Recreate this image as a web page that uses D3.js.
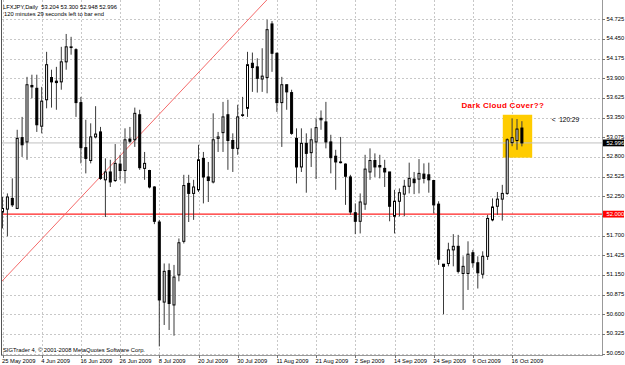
<!DOCTYPE html>
<html>
<head>
<meta charset="utf-8">
<script src="https://cdn.jsdelivr.net/npm/d3@7"></script>
<style>
  body { margin: 0; background: #fff; }
  svg { display: block; }
  text { font-family: "Liberation Sans", Arial, sans-serif; }
</style>
</head>
<body>
<svg id="chart"></svg>
<script>
// ── data ────────────────────────────────────────────────────────────────────
const titleLine  = "LFXJPY,Daily  53.204 53.300 52.948 52.996";
const timerLine  = "120 minutes 29 seconds left to bar end";
const copyright  = "SIGTrader 4, © 2001-2008 MetaQuotes Software Corp.";
const noteText   = "Dark Cloud Cover??";
const countdown  = "<  120:29";

const opens  = [52.03,52.07,52.22,52.08,53.07,53.01,53.80,53.76,53.23,53.60,53.91,53.86,53.85,54.13,54.33,54.30,53.56,52.93,52.75,53.08,
                53.15,52.48,52.59,52.47,52.70,52.61,53.05,53.04,53.39,52.64,52.61,52.38,51.89,50.77,51.21,50.73,51.15,51.62,52.43,52.29,
                52.34,52.78,52.52,52.45,53.06,53.14,53.39,53.03,52.92,53.38,53.48,54.11,54.06,53.89,53.91,54.66,54.25,53.56,53.81,53.70,
                53.06,52.66,52.99,52.86,53.01,53.32,53.29,53.01,52.81,52.73,52.70,52.52,52.02,51.90,52.14,52.59,52.75,52.68,52.64,52.59,
                51.97,52.18,52.28,52.39,52.49,52.49,52.56,52.55,52.47,52.14,51.30,51.31,51.50,51.55,51.17,51.17,51.46,51.32,51.16,51.41,
                51.92,52.11,52.21,52.29,53.00,53.03,53.204];
const highs  = [52.24,52.29,52.50,53.18,53.36,53.92,53.95,53.95,53.78,54.27,54.02,54.06,54.34,54.52,54.48,54.32,53.64,53.32,53.27,53.51,
                53.22,52.78,52.76,52.98,52.83,53.20,53.22,53.49,53.46,52.87,52.62,52.39,51.92,51.31,51.31,51.29,51.66,52.55,52.55,52.48,
                52.97,52.87,52.73,53.41,53.15,53.57,53.60,53.13,53.53,53.64,54.27,54.26,54.18,54.32,54.72,54.70,54.26,53.92,53.81,53.74,
                53.20,53.20,53.13,53.20,53.34,53.45,53.57,53.11,52.90,53.08,52.71,52.55,52.15,52.29,52.83,52.92,52.85,52.83,52.76,52.59,
                52.34,52.36,52.48,52.72,52.59,52.77,52.71,52.72,52.48,52.18,51.30,51.60,51.72,51.71,51.41,51.62,51.50,51.41,51.48,51.99,
                52.22,52.31,52.41,53.06,53.34,53.33,53.300];
const lows   = [51.80,51.69,52.10,52.07,52.80,52.76,53.62,53.15,53.13,53.48,53.49,53.46,53.74,54.02,54.23,53.36,52.71,52.57,52.71,53.06,
                52.48,51.96,52.38,52.45,52.48,52.43,52.99,52.94,52.62,52.48,52.36,51.86,50.15,50.45,50.38,50.30,51.06,51.59,51.89,51.92,
                52.31,52.15,52.17,52.43,52.87,52.87,52.62,52.59,52.83,53.36,53.36,53.71,53.70,53.71,53.69,53.99,53.43,52.94,53.46,53.11,
                52.43,52.59,52.30,52.66,52.49,53.18,52.92,52.57,52.34,52.71,52.13,51.99,51.72,51.73,52.06,52.48,52.52,52.50,52.38,51.90,
                51.73,51.97,51.97,52.29,52.28,52.29,52.43,52.30,52.01,51.29,50.60,51.27,51.27,51.17,50.66,50.94,51.25,50.96,51.10,51.36,
                51.90,51.99,51.91,52.27,52.95,52.90,52.948];
const closes = [52.08,52.24,52.13,53.06,52.97,53.81,53.78,53.25,53.58,54.09,53.85,53.84,54.13,54.34,54.34,53.56,52.93,52.78,53.08,53.12,
                52.50,52.59,52.45,52.71,52.61,53.04,53.02,53.41,52.65,52.71,52.38,51.90,50.80,51.20,50.75,51.12,51.60,52.40,52.29,52.38,
                52.76,52.52,52.47,53.04,53.08,53.36,53.03,52.92,53.36,53.39,54.09,54.05,53.90,53.93,54.58,54.25,53.56,53.81,53.71,53.13,
                52.66,52.99,52.85,53.04,53.21,53.34,53.01,52.79,52.73,52.72,52.53,52.03,51.90,52.17,52.63,52.75,52.66,52.66,52.59,52.11,
                52.18,52.30,52.39,52.50,52.44,52.57,52.50,52.48,52.13,51.37,51.27,51.50,51.55,51.20,51.27,51.44,51.32,51.18,51.41,51.94,
                52.10,52.21,52.29,53.04,53.07,53.19,52.996];

const priceTicks = [54.725,54.450,54.175,53.900,53.625,53.350,53.075,52.800,52.525,52.250,51.975,51.700,51.425,51.150,50.875,50.600,50.325,50.050];
const dateTicks  = ["25 May 2009","4 Jun 2009","16 Jun 2009","26 Jun 2009","8 Jul 2009","20 Jul 2009","30 Jul 2009",
                    "11 Aug 2009","21 Aug 2009","2 Sep 2009","14 Sep 2009","24 Sep 2009","6 Oct 2009","16 Oct 2009"];

const supportLevel = 52.000;
const bidPrice     = 52.996;
const trendPoints  = [{ bar: 0, price: 51.07 }, { bar: 36, price: 53.69 }];
const noteBox      = { from: 102.1, to: 108.1, top: 53.39, bottom: 52.79 };
const notePos      = { bar: 102.1, price: 53.49 };
const countdownPos = { bar: 112.1, price: 53.29 };

// ── layout ──────────────────────────────────────────────────────────────────
const W = 625, H = 365;
const plot = { left: 2, right: 602, top: 0, bottom: 355 };

const svg = d3.select("#chart").attr("width", W).attr("height", H);
svg.append("rect").attr("width", W).attr("height", H).attr("fill", "#fff");

// trading days (weekdays) 25 May 2009 .. 20 Oct 2009
const days = d3.timeDay.range(new Date(2009, 4, 25), new Date(2009, 9, 21)).filter(d => d.getDay() % 6 !== 0);
const key  = d3.timeFormat("%Y-%m-%d");
const parseTick = d3.timeParse("%d %b %Y");
const dayIndex = new Map(days.map((d, i) => [key(d), i]));

const candles = days.map((d, i) => ({ i, o: opens[i], h: highs[i], l: lows[i], c: closes[i] }));

const x = d3.scaleLinear().domain([0, days.length - 1]).range([2.5, 2.5 + 4.9 * (days.length - 1)]);
const y = d3.scaleLinear().domain([50.030, 54.995]).range([plot.bottom, plot.top]);

svg.append("clipPath").attr("id", "plotClip").append("rect")
  .attr("x", plot.left).attr("y", plot.top).attr("width", plot.right - plot.left).attr("height", plot.bottom - plot.top);

const g = svg.append("g").attr("clip-path", "url(#plotClip)");

// grid
g.selectAll("line.hgrid").data(priceTicks).join("line").attr("class", "hgrid")
  .attr("x1", plot.left).attr("x2", plot.right).attr("y1", d => Math.round(y(d)) + 0.5).attr("y2", d => Math.round(y(d)) + 0.5)
  .attr("stroke", "#c8c8c8").attr("stroke-dasharray", "2,2");
const tickBars = dateTicks.map(t => dayIndex.get(key(parseTick(t))));
g.selectAll("line.vgrid").data(tickBars).join("line").attr("class", "vgrid")
  .attr("x1", d => Math.round(x(d)) + 0.5).attr("x2", d => Math.round(x(d)) + 0.5).attr("y1", plot.top).attr("y2", plot.bottom)
  .attr("stroke", "#c8c8c8").attr("stroke-dasharray", "2,2");

// highlight box
g.append("rect").attr("x", x(noteBox.from)).attr("y", y(noteBox.top))
  .attr("width", x(noteBox.to) - x(noteBox.from)).attr("height", y(noteBox.bottom) - y(noteBox.top))
  .attr("fill", "#ffcc00");

// bid line + support line
g.append("line").attr("x1", plot.left).attr("x2", plot.right).attr("y1", y(bidPrice)).attr("y2", y(bidPrice))
  .attr("stroke", "#c0c0c0");
g.append("line").attr("x1", plot.left).attr("x2", plot.right).attr("y1", y(supportLevel)).attr("y2", y(supportLevel))
  .attr("stroke", "#ff2020").attr("stroke-width", 1.2);

// trend line (ray)
const slope = (trendPoints[1].price - trendPoints[0].price) / (trendPoints[1].bar - trendPoints[0].bar);
const trendAt = b => trendPoints[0].price + slope * (b - trendPoints[0].bar);
g.append("line").attr("x1", x(-2)).attr("y1", y(trendAt(-2))).attr("x2", x(80)).attr("y2", y(trendAt(80)))
  .attr("stroke", "#f46a6a").attr("stroke-width", 1);

// candles
const cg = g.selectAll("g.candle").data(candles).join("g").attr("class", "candle");
cg.append("line").attr("x1", d => x(d.i)).attr("x2", d => x(d.i)).attr("y1", d => y(d.h)).attr("y2", d => y(d.l))
  .attr("stroke", "#3a3a3a").attr("stroke-width", 1);
cg.append("rect")
  .attr("x", d => x(d.i) - 1).attr("width", 2)
  .attr("y", d => y(Math.max(d.o, d.c)))
  .attr("height", d => Math.max(0.6, Math.abs(y(d.o) - y(d.c))))
  .attr("fill", d => d.c < d.o ? "#000" : "#fff")
  .attr("stroke", "#000").attr("stroke-width", 1);

// texts inside plot
svg.append("text").attr("x", 3).attr("y", 8.5).attr("font-size", 5.8).attr("fill", "#000").style("white-space", "pre").text(titleLine);
svg.append("text").attr("x", 4).attr("y", 16).attr("font-size", 5.8).attr("fill", "#000").text(timerLine);
svg.append("text").attr("x", 3).attr("y", 352).attr("font-size", 5.8).attr("fill", "#000").text(copyright);
svg.append("text").attr("x", x(notePos.bar)).attr("y", y(notePos.price)).attr("text-anchor", "middle")
  .attr("font-size", 8).attr("font-weight", "bold").attr("fill", "#ff0000").attr("letter-spacing", 0.3).text(noteText);
svg.append("text").attr("x", x(countdownPos.bar)).attr("y", y(countdownPos.price))
  .attr("font-family", "Liberation Mono, monospace").attr("font-size", 6.5).attr("fill", "#000")
  .style("white-space", "pre").text(countdown);

// frame
svg.append("line").attr("x1", 1.5).attr("x2", 1.5).attr("y1", 0).attr("y2", plot.bottom).attr("stroke", "#555");
svg.append("line").attr("x1", plot.right + 0.5).attr("x2", plot.right + 0.5).attr("y1", 0).attr("y2", plot.bottom + 1).attr("stroke", "#999");
svg.append("line").attr("x1", 1).attr("x2", plot.right + 1).attr("y1", plot.bottom + 0.5).attr("y2", plot.bottom + 0.5).attr("stroke", "#999");

// price axis (labels hidden where a level marker sits on top of them, as in the terminal)
const markers = [{ price: supportLevel, fill: "#ff0000" }, { price: bidPrice, fill: "#000" }];
const visibleTicks = priceTicks.filter(p => markers.every(m => Math.abs(y(p) - y(m.price)) > 5));
const pa = svg.append("g");
pa.selectAll("line").data(priceTicks).join("line")
  .attr("x1", plot.right).attr("x2", plot.right + 3).attr("y1", d => Math.round(y(d)) + 0.5).attr("y2", d => Math.round(y(d)) + 0.5)
  .attr("stroke", "#777");
pa.selectAll("text").data(visibleTicks).join("text")
  .attr("x", plot.right + 4.5).attr("y", d => y(d) - 0.6).attr("dy", "0.35em").attr("font-size", 5.8).attr("fill", "#000")
  .text(d => d3.format(".3f")(d));

markers.forEach(m => {
  svg.append("rect").attr("x", plot.right + 1).attr("y", y(m.price) - 3.4).attr("width", 21).attr("height", 6.8).attr("fill", m.fill);
  svg.append("text").attr("x", plot.right + 4.5).attr("y", y(m.price)).attr("dy", "0.35em").attr("font-size", 5.8).attr("fill", "#fff")
    .text(d3.format(".3f")(m.price));
});

// date axis
const da = svg.append("g");
da.selectAll("line").data(tickBars).join("line")
  .attr("x1", d => Math.round(x(d)) + 0.5).attr("x2", d => Math.round(x(d)) + 0.5).attr("y1", plot.bottom).attr("y2", plot.bottom + 3)
  .attr("stroke", "#777");
da.selectAll("text").data(dateTicks).join("text")
  .attr("x", (d, i) => x(tickBars[i]) - 0.5).attr("y", 362.5).attr("font-size", 5.8).attr("fill", "#000").text(d => d);
</script>
</body>
</html>
